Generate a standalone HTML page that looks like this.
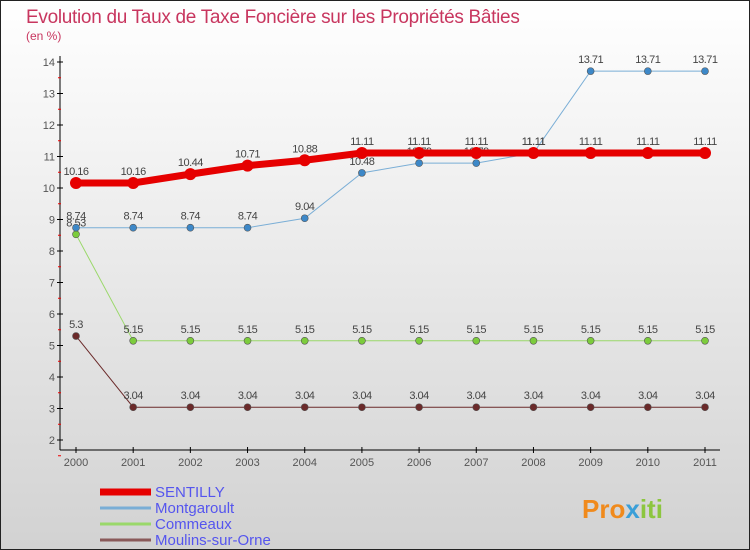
<!DOCTYPE html>
<html><head><meta charset="utf-8">
<style>
body{margin:0;width:750px;height:550px;overflow:hidden;font-family:"Liberation Sans",sans-serif}
svg{display:block}
</style></head>
<body>
<svg id="chart" width="750" height="550" viewBox="0 0 750 550">
<defs><linearGradient id="bg" x1="0" y1="0" x2="0" y2="1"><stop offset="0" stop-color="#ffffff"/><stop offset="1" stop-color="#d2d2d2"/></linearGradient></defs>
<rect x="0.5" y="0.5" width="749" height="549" fill="url(#bg)" stroke="#222"/>
<text x="26" y="23" font-size="19" fill="#c8365f" letter-spacing="-0.3">Evolution du Taux de Taxe Foncière sur les Propriétés Bâties</text>
<text x="26" y="40" font-size="12" fill="#c8365f">(en %)</text>
<g id="axes"></g>
<g id="series"></g>
<g id="legend"></g>
<text x="582" y="518" font-size="26" font-weight="bold" fill="#f08a1c">Pro<tspan fill="#3a9fd8">x</tspan><tspan fill="#8cc63f">iti</tspan></text>
</svg>
<script>
const years=[2000,2001,2002,2003,2004,2005,2006,2007,2008,2009,2010,2011];
const yTicks=[2,3,4,5,6,7,8,9,10,11,12,13,14];
const seriesNames=["SENTILLY","Montgaroult","Commeaux","Moulins-sur-Orne"];
const sentilly=[10.16,10.16,10.44,10.71,10.88,11.11,11.11,11.11,11.11,11.11,11.11,11.11];
const montgaroult=[8.74,8.74,8.74,8.74,9.04,10.48,10.79,10.79,11.11,13.71,13.71,13.71];
const commeaux=[8.53,5.15,5.15,5.15,5.15,5.15,5.15,5.15,5.15,5.15,5.15,5.15];
const moulins=[5.3,3.04,3.04,3.04,3.04,3.04,3.04,3.04,3.04,3.04,3.04,3.04];
const NS="http://www.w3.org/2000/svg";
const xs=i=>76+i*(705-76)/11;
const ys=v=>440-(v-2)*(440-62)/12;
function mk(t,a,p){const e=document.createElementNS(NS,t);for(const k in a)e.setAttribute(k,a[k]);p.appendChild(e);return e;}
const ax=document.getElementById('axes');
let l=mk('line',{x1:60,y1:56,x2:60,y2:450,stroke:'#000'},ax);


l=mk('line',{x1:60,y1:450,x2:720,y2:450,stroke:'#000'},ax);


yTicks.forEach(v=>{const y=ys(v);
 mk('line',{x1:57,y1:y,x2:63,y2:y,stroke:'#000'},ax);
 mk('line',{x1:58,y1:y+15.75,x2:61,y2:y+15.75,stroke:'#e00'},ax);
 const t=mk('text',{x:55,y:y+4,'font-size':11,'text-anchor':'end',fill:'#555'},ax);t.textContent=v;
 
 });
years.forEach((yr,i)=>{const x=xs(i);
 mk('line',{x1:x,y1:447,x2:x,y2:453,stroke:'#000'},ax);
 const t=mk('text',{x:x,y:466,'font-size':11,'text-anchor':'middle',fill:'#555'},ax);t.textContent=yr;
 
 });
const sg=document.getElementById('series');
const defs=[[moulins,'#6b2a2a','#6b2a2a',1,3.5],[commeaux,'#9ad86a','#7ccc3c',1,3.5],[montgaroult,'#7aaed6','#3d88c8',1,3.5],[sentilly,'#e60000','#e60000',7,6]];
const names=['moulins-sur-orne','commeaux','montgaroult','sentilly'];
defs.forEach((d,k)=>{const [vals,lc,pc,w,r]=d;
 const g=mk('g',{},sg);
 
 
 mk('polyline',{points:vals.map((v,i)=>xs(i)+','+ys(v)).join(' '),fill:'none',stroke:lc,'stroke-width':w},g);
 vals.forEach((v,i)=>{const c=mk('circle',{cx:xs(i),cy:ys(v),r:r,fill:pc,stroke:k==3?'none':'#555','stroke-width':0.6},g);
  
  
  const t=mk('text',{x:xs(i),y:ys(v)-8,'font-size':11,'text-anchor':'middle',fill:'#444','letter-spacing':'-0.5'},g);t.textContent=v;
  
  });
});
const lg=document.getElementById('legend');
const lcol=['#e60000','#7aaed6','#9ad86a','#8a5a5a'];const lw=[7,3,3,3];
seriesNames.forEach((n,i)=>{const y=492+i*16;
 const g=mk('g',{},lg);
 
 
 mk('line',{x1:100,y1:y,x2:151,y2:y,stroke:lcol[i],'stroke-width':lw[i]},g);
 const t=mk('text',{x:155,y:y+5,'font-size':15,fill:'#5555ee'},g);t.textContent=n;});
</script>
</body></html>
